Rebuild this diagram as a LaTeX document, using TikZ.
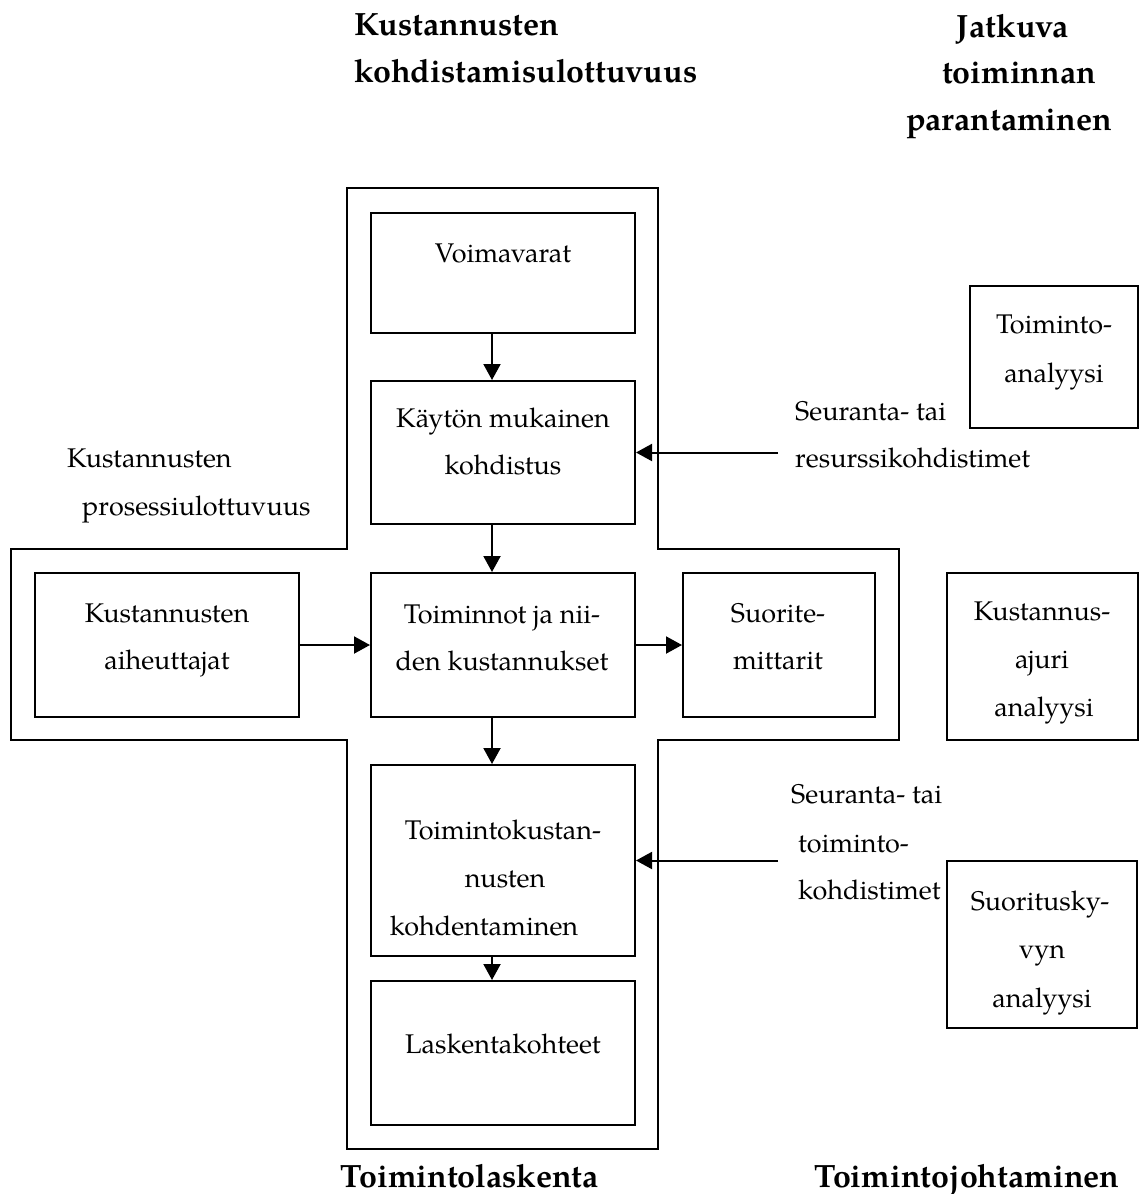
\documentclass[tikz,border=0pt]{standalone}
\usepackage{fontspec}
\setmainfont{TeX Gyre Pagella}
\usetikzlibrary{arrows.meta}
\begin{document}
\begin{tikzpicture}[x=1pt,y=-1pt,
  box/.style={draw, line width=2pt, inner sep=0pt},
  txt/.style={anchor=base, inner sep=0pt, font=\fontsize{27}{32}\selectfont},
  ltxt/.style={txt, anchor=base west},
  ttl/.style={anchor=base, inner sep=0pt, font=\fontsize{32.2}{38}\selectfont\bfseries},
  arr/.style={line width=2pt, -{Triangle[length=16pt,width=17pt]}}]
\useasboundingbox (0,0) rectangle (1139,1194);

% cross outline
\draw[line width=2pt] (347,188) -- (658,188) -- (658,549) -- (899,549) -- (899,740)
  -- (658,740) -- (658,1149) -- (347,1149) -- (347,740) -- (11,740) -- (11,549)
  -- (347,549) -- cycle;

% boxes
\node[box, minimum width=264pt, minimum height=120pt] (vo) at (503,273) {};
\node[box, minimum width=264pt, minimum height=143pt] (kk) at (503,452.5) {};
\node[box, minimum width=264pt, minimum height=144pt] (ka) at (167,645) {};
\node[box, minimum width=264pt, minimum height=144pt] (to) at (503,645) {};
\node[box, minimum width=192pt, minimum height=144pt] (su) at (779,645) {};
\node[box, minimum width=264pt, minimum height=191pt] (tk) at (503,860.5) {};
\node[box, minimum width=264pt, minimum height=144pt] (la) at (503,1053) {};
\node[box, minimum width=168pt, minimum height=142pt] (ta) at (1054,357) {};
\node[box, minimum width=191pt, minimum height=167pt] (kaj) at (1042.5,656.5) {};
\node[box, minimum width=190pt, minimum height=167pt] (sa) at (1042,944.5) {};

% box texts
\node[txt] (t1) at (503,262) {Voimavarat};
\node[txt] (t2a) at (503,427) {Käytön mukainen};
\node[txt] (t2b) at (503,474) {kohdistus};
\node[txt] (t3a) at (167,622) {Kustannusten};
\node[txt] (t3b) at (167,669) {aiheuttajat};
\node[txt] (t4a) at (502,623) {Toiminnot ja nii-};
\node[txt] (t4b) at (502,670) {den kustannukset};
\node[txt] (t5a) at (778,622) {Suorite-};
\node[txt] (t5b) at (778,669) {mittarit};
\node[txt] (t6a) at (503,839) {Toimintokustan-};
\node[txt] (t6b) at (505,887) {nusten};
\node[txt] (t6c) at (484,935) {kohdentaminen};
\node[txt] (t7) at (503,1053) {Laskentakohteet};
\node[txt] (t8a) at (1054,333) {Toiminto-};
\node[txt] (t8b) at (1054,382) {analyysi};
\node[txt] (t9a) at (1042,620) {Kustannus-};
\node[txt] (t9b) at (1042,668) {ajuri};
\node[txt] (t9c) at (1044,716) {analyysi};
\node[txt] (t10a) at (1040,910) {Suoritusky-};
\node[txt] (t10b) at (1042,958) {vyn};
\node[txt] (t10c) at (1042,1007) {analyysi};

% free labels
\node[ltxt] (p1) at (67,467) {Kustannusten};
\node[ltxt] (p2) at (82,515) {prosessiulottuvuus};
\node[ltxt] (s1) at (795,420) {Seuranta- tai};
\node[ltxt] (s2) at (795,467) {resurssikohdistimet};
\node[ltxt] (r1) at (791,803) {Seuranta- tai};
\node[ltxt] (r2) at (798,852) {toiminto-};
\node[ltxt] (r3) at (798,899) {kohdistimet};

% titles
\node[ttl, anchor=base west] (h1a) at (354,35) {Kustannusten};
\node[ttl, anchor=base west] (h1b) at (354,82) {kohdistamisulottuvuus};
\node[ttl] (h2a) at (1013,37) {Jatkuva};
\node[ttl] (h2b) at (1019,83) {toiminnan};
\node[ttl] (h2c) at (1009,130) {parantaminen};
\node[ttl] (f1) at (470,1187) {Toimintolaskenta};
\node[ttl] (f2) at (967,1187) {Toimintojohtaminen};

% connectors
\coordinate (ax) at (492,0);
\coordinate (c1) at (778,452.5);
\coordinate (c2) at (778,860.5);
\draw[arr] (vo.south -| ax) -- (kk.north -| ax);
\draw[arr] (kk.south -| ax) -- (to.north -| ax);
\draw[arr] (to.south -| ax) -- (tk.north -| ax);
\draw[arr] (tk.south -| ax) -- (la.north -| ax);
\draw[arr] (ka.east) -- (to.west);
\draw[arr] (to.east) -- (su.west);
\draw[arr] (c1) -- (kk.east);
\draw[arr] (c2) -- (tk.east);
\end{tikzpicture}
\end{document}
